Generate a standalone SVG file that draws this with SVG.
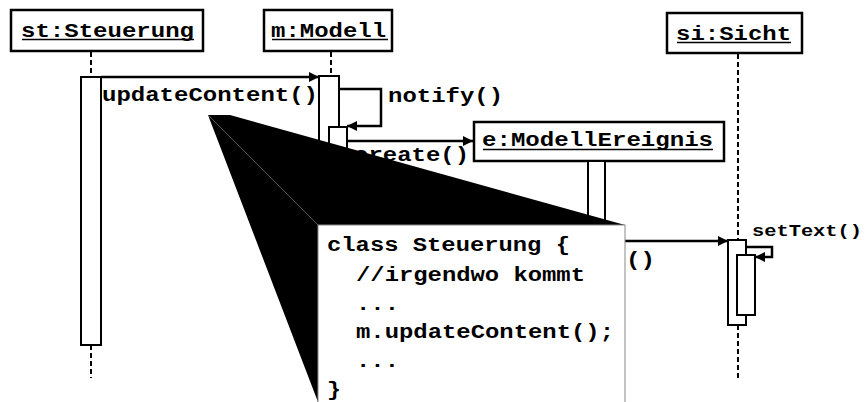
<svg xmlns="http://www.w3.org/2000/svg" width="865" height="402" viewBox="0 0 865 402">
<style>
.box{fill:#fff;stroke:#000;stroke-width:2.5}
.act{fill:#fff;stroke:#000;stroke-width:2}
.life{stroke:#000;stroke-width:2;stroke-dasharray:5 3;fill:none}
.msg{stroke:#000;stroke-width:2.5;fill:none}
.ul{stroke:#000;stroke-width:1.5}
text{font-family:"Liberation Mono","Courier New",monospace;font-weight:bold;fill:#000}
.t{font-size:20px}
.s{font-size:17px}
</style>
<defs>
<marker id="ah" viewBox="0 0 10 10" refX="10" refY="5" markerWidth="10" markerHeight="10" markerUnits="userSpaceOnUse" orient="auto">
<path d="M0,0 L10,5 L0,10 Z" fill="#000"/>
</marker>
</defs>
<g id="lifelines">
<line class="life" x1="91" y1="52" x2="91" y2="77"/>
<line class="life" x1="91" y1="345" x2="91" y2="378"/>
<line class="life" x1="331" y1="52" x2="331" y2="76"/>
<line class="life" x1="738" y1="54" x2="738" y2="240"/>
<line class="life" x1="738" y1="325" x2="738" y2="380"/>
</g>
<g id="st">
<rect class="box" x="11" y="10" width="192" height="41"/>
<text class="t" x="21" y="37" textLength="173" lengthAdjust="spacingAndGlyphs">st:Steuerung</text>
<line class="ul" x1="22" y1="39.5" x2="194" y2="39.5"/>
<rect class="act" x="81" y="77" width="20" height="268"/>
</g>
<g id="m">
<rect class="box" x="264" y="10" width="128" height="41"/>
<text class="t" x="271" y="37" textLength="115" lengthAdjust="spacingAndGlyphs">m:Modell</text>
<line class="ul" x1="272" y1="39.5" x2="388" y2="39.5"/>
<rect class="act" x="319" y="76" width="20" height="120"/>
<rect class="act" x="329" y="127" width="18" height="60"/>
</g>
<g id="e">
<rect class="box" x="474" y="122" width="250" height="39"/>
<text class="t" x="482" y="146" textLength="231" lengthAdjust="spacingAndGlyphs">e:ModellEreignis</text>
<line class="ul" x1="483" y1="149.5" x2="713" y2="149.5"/>
<rect class="act" x="588" y="161" width="17" height="90"/>
</g>
<g id="si">
<rect class="box" x="667" y="13" width="135" height="40"/>
<text class="t" x="676" y="40" textLength="115" lengthAdjust="spacingAndGlyphs">si:Sicht</text>
<line class="ul" x1="677" y1="42.5" x2="791" y2="42.5"/>
<rect class="act" x="728" y="240" width="18" height="85"/>
<rect class="act" x="737" y="255" width="18" height="60"/>
</g>
<g id="connectors">
<line class="msg" x1="101" y1="77" x2="319" y2="77" marker-end="url(#ah)"/>
<polyline class="msg" points="339,89 381,89 381,126 347,126" marker-end="url(#ah)"/>
<line class="msg" x1="347" y1="141" x2="473" y2="141" marker-end="url(#ah)"/>
<line class="msg" x1="605" y1="241" x2="728" y2="241" marker-end="url(#ah)"/>
<polyline class="msg" points="746,247 772,247 772,257 755,257" marker-end="url(#ah)"/>
<text class="t" x="102" y="101" textLength="216" lengthAdjust="spacingAndGlyphs">updateContent()</text>
<text class="t" x="388" y="102" textLength="115" lengthAdjust="spacingAndGlyphs">notify()</text>
<text class="t" x="354" y="161" textLength="115" lengthAdjust="spacingAndGlyphs">create()</text>
<text class="t" x="626" y="266" textLength="29" lengthAdjust="spacingAndGlyphs">()</text>
<text class="s" x="752" y="236" textLength="110" lengthAdjust="spacingAndGlyphs">setText()</text>
</g>
<g id="callout">
<polygon points="208,115 230,115 625,225 318,225 318,402" fill="#000"/>
<line x1="208" y1="115" x2="318" y2="225" stroke="#555" stroke-width="1"/>
<rect x="318" y="225" width="307" height="190" fill="#fff" stroke="#888" stroke-width="1"/>
<text class="t" x="327" y="251" textLength="243" lengthAdjust="spacingAndGlyphs">class Steuerung {</text>
<text class="t" x="356" y="281" textLength="229" lengthAdjust="spacingAndGlyphs">//irgendwo kommt</text>
<text class="t" x="356" y="310" textLength="43" lengthAdjust="spacingAndGlyphs">...</text>
<text class="t" x="356" y="338" textLength="258" lengthAdjust="spacingAndGlyphs">m.updateContent();</text>
<text class="t" x="356" y="367" textLength="43" lengthAdjust="spacingAndGlyphs">...</text>
<text class="t" x="327" y="396" textLength="14" lengthAdjust="spacingAndGlyphs">}</text>
</g>
</svg>
